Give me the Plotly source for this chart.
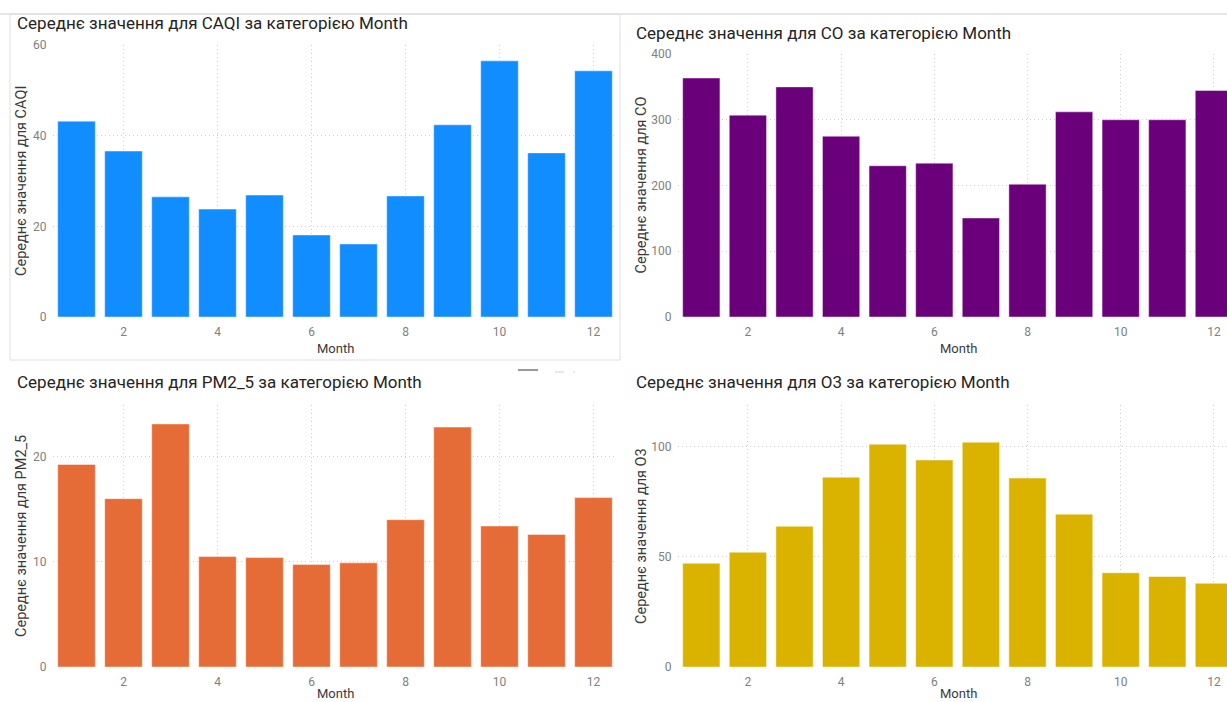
import plotly.graph_objects as go

W, H = 1227, 702

months = list(range(1, 13))
caqi = [43.2, 36.6, 26.5, 23.8, 26.9, 18.1, 16.1, 26.7, 42.4, 56.5, 36.2, 54.3]
co = [363.5, 307, 350, 275, 230, 234, 150.6, 202, 312, 300, 300, 344.6]
pm25 = [19.25, 16.0, 23.1, 10.5, 10.4, 9.75, 9.9, 14.0, 22.8, 13.4, 12.6, 16.1]
o3 = [47.1, 52.1, 63.9, 86.2, 101.2, 94.0, 102.1, 85.8, 69.4, 42.8, 41.1, 38.0]

names = ["CAQI", "CO", "PM2_5", "O3"]
colors = ["#118DFF", "#6B007B", "#E66C37", "#D9B300"]
series = [caqi, co, pm25, o3]

def px(x):
    return x / W

def py(y):
    return 1 - y / H

# plot areas in reference pixels: (left, right, top, bottom)
areas = [(53, 617, 45, 317), (678, 1227, 54, 317), (53, 617, 405, 667), (678, 1227, 405, 667)]
xranges = [[0.5, 12.5], [0.5, 0.5 + (1227 - 678) / 46.6], [0.5, 12.5], [0.5, 0.5 + (1227 - 678) / 46.6]]
yranges = [[0, 60], [0, 400], [0, 24.9], [0, 119]]
ydticks = [20, 100, 10, 50]
title_pos = [(15, 23), (634, 33), (15, 382), (634, 382)]
ytitle_x = [21, 641, 21, 641]
xtitle_x = [335, 958, 335, 958]
xtitle_y = [348, 348, 693, 693]

fig = go.Figure()
layout = dict(width=W, height=H, margin=dict(l=0, r=0, t=0, b=0, autoexpand=False),
              paper_bgcolor="white", plot_bgcolor="white", showlegend=False)
annotations = []
grid_col = "#CFCFCF"
FONT = "Roboto, sans-serif"
tick_font = dict(family=FONT, size=12, color="#808080")

for i in range(4):
    xa = "x" if i == 0 else f"x{i+1}"
    ya = "y" if i == 0 else f"y{i+1}"
    fig.add_trace(go.Bar(x=months, y=series[i],
                         marker=dict(color=colors[i], line=dict(color="rgba(255,255,255,0.45)", width=1)),
                         xaxis=xa, yaxis=ya, width=0.8))
    l, r, t, b = areas[i]
    layout["xaxis" if i == 0 else f"xaxis{i+1}"] = dict(
        domain=[px(l), px(r)], range=xranges[i], anchor=ya, tickmode="linear", tick0=0, dtick=2,
        showgrid=True, gridcolor=grid_col, griddash="1px,3px", gridwidth=1, zeroline=False,
        ticks="outside", ticklen=4, tickcolor="rgba(0,0,0,0)", tickfont=tick_font, showline=False)
    layout["yaxis" if i == 0 else f"yaxis{i+1}"] = dict(
        domain=[py(b), py(t)], range=yranges[i], anchor=xa, tickmode="linear", tick0=0, dtick=ydticks[i],
        showgrid=True, gridcolor=grid_col, griddash="1px,3px", gridwidth=1, zeroline=False,
        ticks="outside", ticklen=3, tickcolor="rgba(0,0,0,0)", tickfont=tick_font, showline=False)
    tx, ty = title_pos[i]
    annotations.append(dict(text=f"Середнє значення для {names[i]} за категорією Month", x=px(tx), y=py(ty),
                            xref="paper", yref="paper", xanchor="left", yanchor="middle", showarrow=False,
                            font=dict(family=FONT, size=17, color="#252423")))
    annotations.append(dict(text=f"Середнє значення для {names[i]}", x=px(ytitle_x[i]), y=py((t + b) / 2),
                            xref="paper", yref="paper", xanchor="center", yanchor="middle", showarrow=False,
                            textangle=-90, font=dict(family=FONT, size=14.5, color="#3a3a3a")))
    annotations.append(dict(text="Month", x=px(xtitle_x[i]), y=py(xtitle_y[i]),
                            xref="paper", yref="paper", xanchor="center", yanchor="middle", showarrow=False,
                            font=dict(family=FONT, size=13, color="#3a3a3a")))

layout["annotations"] = annotations
layout["shapes"] = [
    dict(type="line", xref="paper", yref="paper", x0=0, x1=1, y0=py(14), y1=py(14), line=dict(color="#E6E6E6", width=2)),
    dict(type="rect", xref="paper", yref="paper", x0=px(10), x1=px(620), y0=py(360), y1=py(14), line=dict(color="#E1DFDD", width=1)),
    dict(type="line", xref="paper", yref="paper", x0=px(518), x1=px(538), y0=py(370), y1=py(370), line=dict(color="#999999", width=2)),
    dict(type="line", xref="paper", yref="paper", x0=px(555), x1=px(575), y0=py(372), y1=py(372), line=dict(color="#D0D0D0", width=1, dash="dash")),
]
fig.update_layout(**layout)
fig.write_html("out.html")
